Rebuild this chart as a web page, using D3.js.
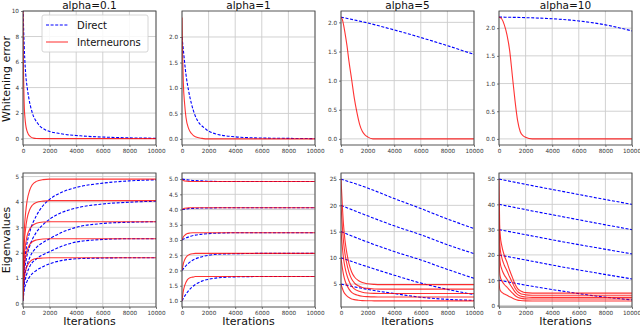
<!DOCTYPE html>
<html>
<head>
<meta charset="utf-8">
<script src="https://cdnjs.cloudflare.com/ajax/libs/d3/7.8.5/d3.min.js"></script>
<style>
body { margin: 0; background: #fff; }
svg { display: block; font-family: "DejaVu Sans", sans-serif; }
</style>
</head>
<body>
<svg id="chart" width="640" height="327"></svg>
<script>
/*********************
	Data
**********************/
var titles = ["alpha=0.1", "alpha=1", "alpha=5", "alpha=10"];
var iterTicks = [0, 2000, 4000, 6000, 8000, 10000];
var legendLabels = ["Direct", "Interneurons"];

// whitening error (top row)
var errIter01Blue = [0, 50, 130, 200, 330, 460, 720, 1100, 1700, 2800, 4300, 6600, 8000, 10000];
var errBlue01 = [10.5, 8.5, 6.3, 5.1, 3.9, 3.05, 1.95, 1.2, 0.68, 0.39, 0.22, 0.1, 0.06, 0.03];
var errIter01Red = [0, 30, 60, 100, 150, 200, 300, 400, 600, 800, 1000, 1500, 10000];
var errRed01 = [10.5, 6.0, 4.0, 2.4, 1.6, 1.1, 0.6, 0.35, 0.12, 0.04, 0.01, 0, 0];

var errIter1Blue = [0, 100, 300, 500, 700, 1000, 1800, 2500, 4000, 5500, 8000, 10000];
var errBlue1 = [2.0, 1.75, 1.26, 0.94, 0.7, 0.45, 0.19, 0.1, 0.04, 0.02, 0.01, 0.005];
var errIter1Red = [0, 50, 100, 200, 300, 500, 700, 1000, 1500, 2000, 10000];
var errRed1 = [2.38, 1.6, 1.1, 0.68, 0.42, 0.2, 0.11, 0.04, 0.01, 0, 0];

var errIter5Blue = [0, 2000, 4000, 6000, 8000, 10000];
var errBlue5 = [2.09, 1.99, 1.87, 1.74, 1.60, 1.45];
var errIter5Red = [0, 100, 200, 300, 450, 600, 800, 1000, 1200, 1400, 1600, 1800, 2000, 2400, 10000];
var errRed5 = [2.09, 2.05, 1.95, 1.82, 1.6, 1.33, 1.02, 0.7, 0.45, 0.25, 0.13, 0.07, 0.035, 0, 0];

var errIter10Blue = [0, 2000, 4000, 6000, 8000, 10000];
var errBlue10 = [2.2, 2.19, 2.17, 2.13, 2.06, 1.95];
var errIter10Red = [0, 200, 400, 600, 800, 1000, 1200, 1400, 1600, 1800, 2000, 2500, 10000];
var errRed10 = [2.2, 2.17, 2.06, 1.88, 1.6, 1.15, 0.7, 0.33, 0.13, 0.06, 0.03, 0, 0];

// eigenvalues (bottom row), five per panel
var eigIter01Red = [0, 50, 100, 200, 300, 500, 700, 1000, 1500, 2000, 10000];
var eigRed01 = [
	[0.1, 0.78, 1.04, 1.29, 1.46, 1.63, 1.72, 1.77, 1.79, 1.8, 1.8],
	[0.2, 1.14, 1.49, 1.85, 2.08, 2.32, 2.43, 2.5, 2.54, 2.55, 2.55],
	[0.3, 1.47, 1.91, 2.35, 2.64, 2.93, 3.07, 3.16, 3.21, 3.22, 3.22],
	[0.4, 1.86, 2.41, 2.96, 3.32, 3.69, 3.87, 3.98, 4.03, 4.05, 4.05],
	[0.5, 2.26, 2.92, 3.58, 4.02, 4.46, 4.68, 4.81, 4.88, 4.9, 4.9]];
var eigIter01Blue = [0, 100, 250, 500, 1000, 1500, 2000, 3000, 4000, 6000, 8000, 10000];
var eigBlue01 = [
	[0.1, 0.55, 0.8, 1.05, 1.3, 1.45, 1.56, 1.7, 1.76, 1.79, 1.8, 1.8],
	[0.2, 0.75, 1.1, 1.45, 1.75, 1.92, 2.04, 2.27, 2.42, 2.52, 2.55, 2.55],
	[0.3, 0.95, 1.4, 1.8, 2.2, 2.4, 2.55, 2.82, 3.0, 3.15, 3.2, 3.22],
	[0.4, 1.2, 1.75, 2.25, 2.8, 3.1, 3.32, 3.6, 3.76, 3.92, 3.99, 4.03],
	[0.5, 1.5, 2.2, 2.8, 3.45, 3.85, 4.1, 4.4, 4.57, 4.74, 4.83, 4.87]];

var eigIter1Red = [0, 100, 200, 400, 600, 800, 1000, 2000, 10000];
var eigRed1 = [
	[1.0, 1.32, 1.5, 1.69, 1.76, 1.78, 1.8, 1.8, 1.8],
	[2.0, 2.22, 2.35, 2.48, 2.53, 2.55, 2.56, 2.56, 2.56],
	[3.0, 3.1, 3.15, 3.21, 3.23, 3.24, 3.24, 3.24, 3.24],
	[4.0, 4.03, 4.04, 4.05, 4.06, 4.06, 4.06, 4.06, 4.06],
	[5.0, 4.95, 4.94, 4.93, 4.92, 4.92, 4.92, 4.92, 4.92]];
var eigIter1Blue = [0, 250, 500, 1000, 1500, 2000, 3000, 4000, 6000, 10000];
var eigBlue1 = [
	[1.0, 1.19, 1.34, 1.54, 1.65, 1.71, 1.77, 1.79, 1.8, 1.8],
	[2.0, 2.13, 2.24, 2.38, 2.45, 2.5, 2.54, 2.55, 2.56, 2.56],
	[3.0, 3.06, 3.1, 3.16, 3.19, 3.21, 3.23, 3.24, 3.24, 3.24],
	[4.0, 4.01, 4.03, 4.04, 4.05, 4.05, 4.06, 4.06, 4.06, 4.06],
	[5.0, 4.98, 4.97, 4.95, 4.94, 4.93, 4.92, 4.92, 4.92, 4.92]];

var eigIter5Red = [0, 100, 200, 300, 400, 600, 800, 1000, 1300, 1600, 2000, 2500, 3000, 10000];
var eigRed5 = [
	[5, 4.2, 3.56, 3.14, 2.86, 2.44, 2.18, 2.04, 1.93, 1.86, 1.83, 1.81, 1.8, 1.8],
	[10, 8.14, 6.65, 5.68, 5.01, 4.04, 3.44, 3.11, 2.85, 2.7, 2.61, 2.56, 2.55, 2.55],
	[15, 12.06, 9.7, 8.17, 7.11, 5.58, 4.63, 4.1, 3.69, 3.46, 3.31, 3.24, 3.22, 3.22],
	[20, 16.01, 12.82, 10.75, 9.31, 7.24, 5.96, 5.25, 4.69, 4.37, 4.18, 4.08, 4.05, 4.05],
	[25, 19.98, 15.96, 13.34, 11.53, 8.92, 7.31, 6.41, 5.7, 5.3, 5.06, 4.94, 4.9, 4.9]];
var eigIter5Blue = [0, 2000, 4000, 6000, 8000, 10000];
var eigBlue5 = [
	[5, 4.0, 3.2, 2.5, 2.1, 1.9],
	[10, 8.3, 6.7, 5.2, 4.0, 3.0],
	[15, 13.0, 11.2, 9.6, 7.8, 6.1],
	[20, 18.0, 16.1, 14.4, 12.5, 10.8],
	[25, 23.3, 21.3, 19.4, 17.4, 15.6]];

var eigIter10Red = [0, 50, 100, 200, 400, 600, 800, 1000, 1200, 1400, 1600, 1800, 2000, 2500, 10000];
var eigRed10 = [
	[10, 6.72, 5.9, 5.24, 4.51, 4.01, 3.44, 2.95, 2.46, 2.13, 1.96, 1.88, 1.83, 1.8, 1.8],
	[20, 13.02, 11.28, 9.88, 8.31, 7.26, 6.04, 4.99, 3.95, 3.25, 2.9, 2.72, 2.62, 2.55, 2.55],
	[30, 19.29, 16.61, 14.47, 12.06, 10.45, 8.58, 6.97, 5.36, 4.29, 3.76, 3.49, 3.33, 3.22, 3.22],
	[40, 25.62, 22.03, 19.15, 15.91, 13.76, 11.24, 9.08, 6.93, 5.49, 4.77, 4.41, 4.19, 4.05, 4.05],
	[50, 31.96, 27.45, 23.84, 19.78, 17.08, 13.92, 11.21, 8.51, 6.7, 5.8, 5.35, 5.08, 4.9, 4.9]];
var eigIter10Blue = [0, 2500, 5000, 7500, 10000];
var eigBlue10 = [
	[10, 7.6, 5.5, 3.6, 2.2],
	[20, 17.5, 15.0, 12.7, 10.5],
	[30, 27.5, 25.0, 22.7, 20.4],
	[40, 37.4, 34.9, 32.4, 30.0],
	[50, 47.4, 44.9, 42.4, 40.0]];

// y ticks
var errTicks01 = [0, 2, 4, 6, 8, 10];
var errTicks = [0, 0.5, 1, 1.5, 2];
var eigTicks01 = [0, 1, 2, 3, 4, 5];
var eigTicks1 = [1, 1.5, 2, 2.5, 3, 3.5, 4, 4.5, 5];
var eigTicks5 = [5, 10, 15, 20, 25];
var eigTicks10 = [0, 10, 20, 30, 40, 50];

/*********************
	Layout
**********************/
var panelLeft = [23, 182, 341, 499];
var panelW = 133;
var rowTop = [11, 173];
var panelH = 134;

var svg = d3.select("#chart");

function zipSeries(iters, vals){
	return iters.map(function(t, i){ return [t, vals[i]]; });
}

var panels = [
	// top row
	{row: 0, col: 0, dom: [-0.5, 10], ticks: errTicks01, fmt: d3.format("d"),
		blue: [zipSeries(errIter01Blue, errBlue01)], red: [zipSeries(errIter01Red, errRed01)]},
	{row: 0, col: 1, dom: [-0.12, 2.51], ticks: errTicks, fmt: d3.format(".1f"),
		blue: [zipSeries(errIter1Blue, errBlue1)], red: [zipSeries(errIter1Red, errRed1)]},
	{row: 0, col: 2, dom: [-0.105, 2.195], ticks: errTicks, fmt: d3.format(".1f"),
		blue: [zipSeries(errIter5Blue, errBlue5)], red: [zipSeries(errIter5Red, errRed5)]},
	{row: 0, col: 3, dom: [-0.11, 2.31], ticks: errTicks, fmt: d3.format(".1f"),
		blue: [zipSeries(errIter10Blue, errBlue10)], red: [zipSeries(errIter10Red, errRed10)]},
	// bottom row
	{row: 1, col: 0, dom: [-0.14, 5.14], ticks: eigTicks01, fmt: d3.format("d"),
		blue: eigBlue01.map(function(v){ return zipSeries(eigIter01Blue, v); }),
		red: eigRed01.map(function(v){ return zipSeries(eigIter01Red, v); })},
	{row: 1, col: 1, dom: [0.8, 5.2], ticks: eigTicks1, fmt: d3.format(".1f"),
		blue: eigBlue1.map(function(v){ return zipSeries(eigIter1Blue, v); }),
		red: eigRed1.map(function(v){ return zipSeries(eigIter1Red, v); })},
	{row: 1, col: 2, dom: [0.64, 26.16], ticks: eigTicks5, fmt: d3.format("d"),
		blue: eigBlue5.map(function(v){ return zipSeries(eigIter5Blue, v); }),
		red: eigRed5.map(function(v){ return zipSeries(eigIter5Red, v); })},
	{row: 1, col: 3, dom: [-0.6, 52.4], ticks: eigTicks10, fmt: d3.format("d"),
		blue: eigBlue10.map(function(v){ return zipSeries(eigIter10Blue, v); }),
		red: eigRed10.map(function(v){ return zipSeries(eigIter10Red, v); })}
];

panels.forEach(function(p, idx){
	var x0 = panelLeft[p.col], y0 = rowTop[p.row];
	var g = svg.append("g").attr("transform", "translate(" + x0 + "," + y0 + ")");
	var x = d3.scaleLinear().domain([0, 10000]).range([0, panelW]);
	var y = d3.scaleLinear().domain(p.dom).range([panelH, 0]);

	// grid
	g.append("g").selectAll("line").data(iterTicks).join("line")
		.attr("x1", function(d){ return x(d); }).attr("x2", function(d){ return x(d); })
		.attr("y1", 0).attr("y2", panelH)
		.attr("stroke", "#cccccc").attr("stroke-width", 0.9);
	g.append("g").selectAll("line").data(p.ticks).join("line")
		.attr("x1", 0).attr("x2", panelW)
		.attr("y1", function(d){ return y(d); }).attr("y2", function(d){ return y(d); })
		.attr("stroke", "#cccccc").attr("stroke-width", 0.9);

	// lines
	var clipId = "clip" + idx;
	g.append("clipPath").attr("id", clipId).append("rect")
		.attr("width", panelW).attr("height", panelH);
	var line = d3.line()
		.x(function(d){ return x(d[0]); })
		.y(function(d){ return y(d[1]); })
		.curve(d3.curveMonotoneX);
	var plot = g.append("g").attr("clip-path", "url(#" + clipId + ")");
	plot.selectAll(".blue").data(p.blue).join("path")
		.attr("class", "blue")
		.attr("d", line)
		.attr("fill", "none").attr("stroke", "#0000ff")
		.attr("stroke-width", 1.1).attr("stroke-dasharray", "3,1.6");
	plot.selectAll(".red").data(p.red).join("path")
		.attr("class", "red")
		.attr("d", line)
		.attr("fill", "none").attr("stroke", "#ff0000")
		.attr("stroke-opacity", 0.8).attr("stroke-width", 1.1);

	// axes
	var xAxis = d3.axisBottom(x).tickValues(iterTicks).tickSize(2).tickPadding(1.5).tickFormat(d3.format("d"));
	var yAxis = d3.axisLeft(y).tickValues(p.ticks).tickSize(2).tickPadding(2).tickFormat(p.fmt);
	var gx = g.append("g").attr("transform", "translate(0," + panelH + ")").call(xAxis);
	var gy = g.append("g").call(yAxis);
	[gx, gy].forEach(function(a){
		a.select(".domain").remove();
		a.selectAll(".tick line").attr("stroke", "#444").attr("stroke-width", 0.7);
		a.selectAll(".tick text").attr("font-size", "5.7px").attr("fill", "#333")
			.attr("font-family", "DejaVu Sans, sans-serif");
	});
	// keep the last label of the right-hand column inside the page
	if (p.col == 3){
		gx.selectAll(".tick text").filter(function(d){ return d == 10000; })
			.attr("text-anchor", "end").attr("dx", "8.5px");
	}

	// frame
	g.append("rect").attr("width", panelW).attr("height", panelH)
		.attr("fill", "none").attr("stroke", "#444").attr("stroke-width", 0.9);

	if (p.row == 0){
		svg.append("text").attr("x", x0 + panelW / 2).attr("y", 9)
			.attr("text-anchor", "middle").attr("font-size", "10.5px").attr("fill", "#111")
			.text(titles[p.col]);
	} else {
		svg.append("text").attr("x", x0 + panelW / 2).attr("y", 325)
			.attr("text-anchor", "middle").attr("font-size", "11px").attr("fill", "#111")
			.text("Iterations");
	}
});

// y labels
svg.append("text").attr("transform", "translate(10,79) rotate(-90)")
	.attr("text-anchor", "middle").attr("font-size", "11px").attr("fill", "#111")
	.text("Whitening error");
svg.append("text").attr("transform", "translate(10,240) rotate(-90)")
	.attr("text-anchor", "middle").attr("font-size", "11px").attr("fill", "#111")
	.text("Eigenvalues");

// legend in first panel
var leg = svg.append("g").attr("transform", "translate(42,15)");
leg.append("rect").attr("width", 106).attr("height", 37).attr("rx", 2)
	.attr("fill", "#fff").attr("fill-opacity", 0.85).attr("stroke", "#ccc").attr("stroke-width", 0.8);
legendLabels.forEach(function(lbl, i){
	var ly = 10 + i * 17;
	leg.append("line").attr("x1", 4).attr("x2", 26).attr("y1", ly).attr("y2", ly)
		.attr("stroke", i == 0 ? "#0000ff" : "#ff0000")
		.attr("stroke-opacity", i == 0 ? 1 : 0.75)
		.attr("stroke-width", 1.1)
		.attr("stroke-dasharray", i == 0 ? "3,1.6" : null);
	leg.append("text").attr("x", 35).attr("y", ly + 3.6)
		.attr("font-size", "10px").attr("fill", "#111").text(lbl);
});
</script>
</body>
</html>
